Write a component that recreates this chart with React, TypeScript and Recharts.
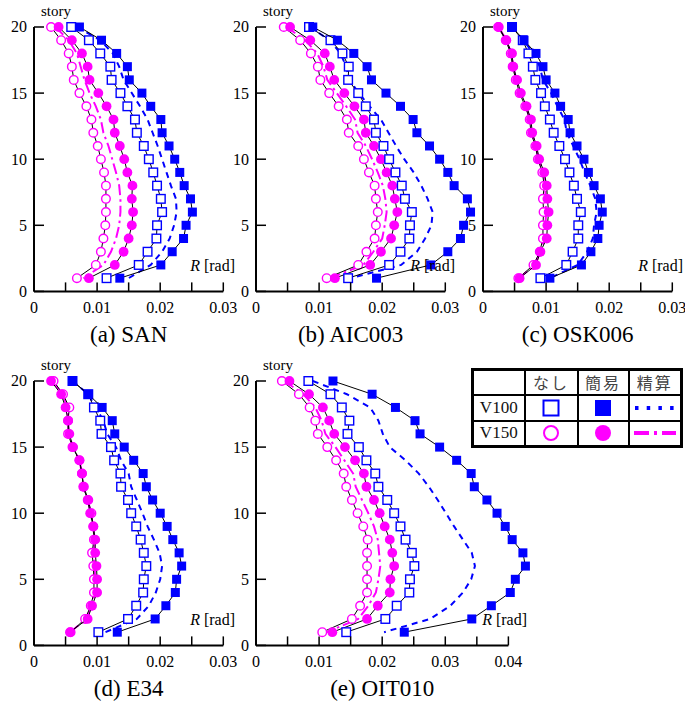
import React from 'react';
import { ScatterChart, Scatter, XAxis, YAxis, ReferenceLine } from 'recharts';

// ---------- data (story 20 -> 1) ----------
const STORIES = [20, 19, 18, 17, 16, 15, 14, 13, 12, 11, 10, 9, 8, 7, 6, 5, 4, 3, 2, 1];
const STORY_TICKS = [0, 5, 10, 15, 20];
const R_TICKS_003 = [0, 0.005, 0.01, 0.015, 0.02, 0.025, 0.03];
const R_TICKS_004 = [0, 0.005, 0.01, 0.015, 0.02, 0.025, 0.03, 0.035, 0.04];

// (a) SAN
const sanV100None = [0.0059, 0.0087, 0.0105, 0.0121, 0.0123, 0.0137, 0.0148, 0.016, 0.0163, 0.0174, 0.0182, 0.0189, 0.0195, 0.0201, 0.0203, 0.0195, 0.0194, 0.018, 0.0166, 0.0115];
const sanV100Simple = [0.0072, 0.0107, 0.0131, 0.0148, 0.0151, 0.0171, 0.0185, 0.0201, 0.0203, 0.0214, 0.0223, 0.0231, 0.0238, 0.0248, 0.0251, 0.0241, 0.0237, 0.0219, 0.0201, 0.0136];
const sanV100Precise = [0.0068, 0.0105, 0.0125, 0.0135, 0.0142, 0.0155, 0.0168, 0.018, 0.0188, 0.0196, 0.0203, 0.021, 0.0217, 0.0225, 0.0226, 0.0222, 0.0215, 0.0203, 0.0185, 0.015];
const sanV150None = [0.0027, 0.0043, 0.0055, 0.006, 0.0063, 0.0072, 0.0083, 0.0091, 0.0094, 0.0101, 0.0106, 0.0111, 0.0114, 0.0114, 0.0114, 0.0113, 0.011, 0.0106, 0.0098, 0.0068];
const sanV150Simple = [0.0039, 0.006, 0.0076, 0.0085, 0.0088, 0.0102, 0.0115, 0.0126, 0.0128, 0.0136, 0.0143, 0.0148, 0.0156, 0.0155, 0.0157, 0.0155, 0.015, 0.0142, 0.0128, 0.0087];
const sanV150Precise = [0.0034, 0.0055, 0.0068, 0.0074, 0.008, 0.0088, 0.0098, 0.0106, 0.011, 0.0118, 0.0124, 0.013, 0.0135, 0.0137, 0.0137, 0.0135, 0.013, 0.0122, 0.011, 0.0078];

// (b) AIC003
const aicV100None = [0.0084, 0.0118, 0.0137, 0.0147, 0.0146, 0.0162, 0.0174, 0.0187, 0.019, 0.0202, 0.0211, 0.0221, 0.0231, 0.0236, 0.0247, 0.0244, 0.0243, 0.0229, 0.0211, 0.0146];
const aicV100Simple = [0.009, 0.0129, 0.0155, 0.0176, 0.0183, 0.0206, 0.0229, 0.0249, 0.0255, 0.0275, 0.0291, 0.0304, 0.0314, 0.0335, 0.034, 0.0329, 0.0324, 0.0304, 0.0277, 0.0191];
const aicV100Precise = [0.0085, 0.0117, 0.0134, 0.0143, 0.0148, 0.0163, 0.018, 0.0198, 0.021, 0.0222, 0.0235, 0.025, 0.0262, 0.0272, 0.028, 0.0278, 0.0268, 0.0255, 0.023, 0.015];
const aicV150None = [0.0044, 0.007, 0.0087, 0.0098, 0.0102, 0.0116, 0.0131, 0.0144, 0.0147, 0.0162, 0.0171, 0.0179, 0.0188, 0.019, 0.0193, 0.019, 0.0188, 0.0175, 0.0162, 0.0112];
const aicV150Simple = [0.0054, 0.0086, 0.0109, 0.0117, 0.0124, 0.014, 0.0156, 0.0171, 0.0174, 0.0187, 0.0198, 0.0207, 0.0216, 0.022, 0.0224, 0.0219, 0.0214, 0.0198, 0.0181, 0.0125];
const aicV150Precise = [0.0048, 0.0078, 0.0097, 0.0107, 0.0113, 0.0128, 0.0143, 0.0157, 0.0161, 0.0174, 0.0184, 0.0193, 0.0201, 0.0205, 0.0207, 0.0204, 0.02, 0.0186, 0.017, 0.0117];

// (c) OSK006
const oskV100None = [0.0046, 0.0063, 0.0072, 0.0079, 0.0083, 0.0092, 0.0098, 0.0106, 0.0112, 0.0121, 0.013, 0.0137, 0.0144, 0.0149, 0.0155, 0.0151, 0.0151, 0.0142, 0.0132, 0.0091];
const oskV100Simple = [0.0046, 0.0065, 0.0084, 0.0095, 0.01, 0.0114, 0.0123, 0.0135, 0.0138, 0.0149, 0.016, 0.0167, 0.0176, 0.0186, 0.0189, 0.0184, 0.0182, 0.0171, 0.0156, 0.0106];
const oskV100Precise = [0.0046, 0.0064, 0.008, 0.009, 0.0095, 0.0108, 0.0118, 0.0129, 0.0133, 0.0143, 0.0153, 0.0161, 0.017, 0.0178, 0.018, 0.0176, 0.0174, 0.0165, 0.015, 0.0106];
const oskV150None = [0.0024, 0.0036, 0.0044, 0.0047, 0.0052, 0.0058, 0.0067, 0.0074, 0.0076, 0.0083, 0.0087, 0.0094, 0.0097, 0.0095, 0.0096, 0.0095, 0.0095, 0.009, 0.008, 0.0056];
const oskV150Simple = [0.0025, 0.0037, 0.0046, 0.0048, 0.0054, 0.006, 0.0069, 0.0076, 0.0078, 0.0085, 0.0089, 0.0097, 0.0101, 0.0102, 0.0104, 0.0102, 0.0101, 0.0091, 0.0084, 0.0058];
const oskV150Precise = [0.0025, 0.0037, 0.0045, 0.0048, 0.0053, 0.0059, 0.0068, 0.0075, 0.0077, 0.0084, 0.0088, 0.0096, 0.0099, 0.0099, 0.01, 0.0099, 0.0098, 0.0091, 0.0082, 0.0057];

// (d) E34
const e34V100None = [0.0061, 0.0086, 0.0095, 0.0105, 0.0107, 0.0122, 0.0127, 0.0137, 0.0138, 0.0149, 0.0154, 0.0162, 0.0169, 0.0174, 0.0178, 0.0174, 0.0173, 0.0162, 0.0149, 0.0102];
const e34V100Simple = [0.0061, 0.0086, 0.0108, 0.0124, 0.0128, 0.0143, 0.0158, 0.0173, 0.0178, 0.0188, 0.02, 0.0211, 0.022, 0.023, 0.0234, 0.0226, 0.0224, 0.0209, 0.0192, 0.0132];
const e34V100Precise = [0.0061, 0.0086, 0.0098, 0.011, 0.0116, 0.013, 0.0138, 0.015, 0.0154, 0.0163, 0.0172, 0.018, 0.019, 0.0199, 0.0203, 0.02, 0.0193, 0.0182, 0.0163, 0.0113];
const e34V150None = [0.0031, 0.0046, 0.0056, 0.0054, 0.0054, 0.0061, 0.0072, 0.0076, 0.0079, 0.0086, 0.0091, 0.0094, 0.0095, 0.0092, 0.0094, 0.0095, 0.0095, 0.009, 0.0081, 0.0058];
const e34V150Simple = [0.0027, 0.0043, 0.005, 0.0054, 0.0056, 0.0062, 0.0072, 0.0076, 0.0078, 0.0085, 0.0089, 0.0094, 0.0097, 0.0097, 0.0099, 0.01, 0.01, 0.0092, 0.0085, 0.0057];
const e34V150Precise = [0.0029, 0.0045, 0.0053, 0.0054, 0.0055, 0.0062, 0.0072, 0.0076, 0.0078, 0.0085, 0.009, 0.0094, 0.0096, 0.0095, 0.0096, 0.0097, 0.0097, 0.0091, 0.0083, 0.0057];

// (e) OIT010
const oitV100None = [0.0083, 0.0118, 0.0136, 0.0148, 0.0145, 0.0163, 0.0175, 0.0189, 0.0194, 0.0208, 0.0219, 0.0229, 0.0237, 0.0247, 0.0251, 0.0244, 0.0243, 0.0223, 0.0205, 0.0143];
const oitV100Simple = [0.0122, 0.0184, 0.0221, 0.0252, 0.026, 0.0291, 0.0318, 0.0341, 0.0346, 0.0366, 0.0382, 0.0395, 0.0406, 0.0423, 0.0427, 0.0411, 0.0403, 0.0373, 0.0342, 0.0235];
const oitV100Precise = [0.009, 0.0144, 0.0181, 0.0194, 0.0201, 0.0212, 0.0237, 0.0258, 0.0274, 0.0288, 0.0301, 0.0314, 0.0328, 0.0342, 0.0347, 0.0341, 0.0328, 0.0308, 0.0276, 0.0203];
const oitV150None = [0.0041, 0.0068, 0.0085, 0.0094, 0.0098, 0.0113, 0.0127, 0.0139, 0.0143, 0.0152, 0.0161, 0.017, 0.0177, 0.0176, 0.0176, 0.0176, 0.0176, 0.0165, 0.0152, 0.0105];
const oitV150Simple = [0.0053, 0.0084, 0.0106, 0.0116, 0.0124, 0.0141, 0.0157, 0.0171, 0.0175, 0.0187, 0.0196, 0.0204, 0.0212, 0.0216, 0.0219, 0.0213, 0.0212, 0.0193, 0.0176, 0.0121];
const oitV150Precise = [0.0045, 0.0075, 0.0094, 0.0104, 0.011, 0.0126, 0.014, 0.0154, 0.0158, 0.0168, 0.0178, 0.0187, 0.0193, 0.0195, 0.0197, 0.0194, 0.019, 0.0178, 0.0162, 0.0112];

// ---------- styling ----------
const BLUE = '#0000ff';
const MAGENTA = '#ff00ff';
const SERIF = '"Liberation Serif", "DejaVu Serif", "Times New Roman", serif';
const CJK = '"Noto Sans CJK JP", "Noto Sans CJK SC", sans-serif';
const PX_PER_RAD = 6310;
const PLOT_H = 264.4;

const serifStyle: React.CSSProperties = { fontFamily: SERIF };

const toPoints = (values: number[]) => STORIES.map((s, i) => ({ story: s, r: values[i] }));

const OpenSquare = (p: any) => (
  <rect x={p.cx - 4.3} y={p.cy - 4.3} width={8.6} height={8.6} fill="#fff" stroke={BLUE} strokeWidth={1.4} />
);
const FilledSquare = (p: any) => (
  <rect x={p.cx - 4.5} y={p.cy - 4.5} width={9} height={9} fill={BLUE} />
);
const OpenCircle = (p: any) => (
  <circle cx={p.cx} cy={p.cy} r={4.3} fill="#fff" stroke={MAGENTA} strokeWidth={1.4} />
);
const FilledCircle = (p: any) => <circle cx={p.cx} cy={p.cy} r={4.9} fill={MAGENTA} />;
const NoMarker = () => <g />;

const XTick = (props: any) => {
  const { x, y, payload } = props;
  const v = payload.value as number;
  const major = Math.abs(Math.round(v * 100) - v * 100) < 1e-6;
  return (
    <g>
      <line x1={x} x2={x} y1={y} y2={y - 9} stroke="#000" strokeWidth={1.5} />
      {major && (
        <text x={x} y={y + 21.5} textAnchor="middle" style={serifStyle} fontSize={16} fill="#000">
          {v === 0 ? '0' : v.toFixed(2)}
        </text>
      )}
    </g>
  );
};

const YTick = (props: any) => {
  const { x, y, payload } = props;
  return (
    <g>
      <line x1={x} x2={x + 10} y1={y} y2={y} stroke="#000" strokeWidth={1.5} />
      <text x={x - 7} y={y + 5.5} textAnchor="end" style={serifStyle} fontSize={16} fill="#000">
        {payload.value}
      </text>
    </g>
  );
};

type PanelProps = {
  axisX: number;
  y20: number;
  domainMax: number;
  axisMax: number;
  ticks: number[];
  v100None: number[];
  v100Simple: number[];
  v100Precise: number[];
  v150None: number[];
  v150Simple: number[];
  v150Precise: number[];
};

function Panel(p: PanelProps) {
  const mL = 30, mR = 28, mT = 15, mB = 30;
  const yAxisW = 1;
  const xAxisH = 1;
  const plotW = p.domainMax * PX_PER_RAD;
  const W = mL + yAxisW + plotW + mR;
  const H = mT + PLOT_H + xAxisH + mB;
  return (
    <div style={{ position: 'absolute', left: p.axisX - mL - yAxisW, top: p.y20 - mT }}>
      <ScatterChart width={W} height={H} margin={{ top: mT, right: mR, bottom: mB, left: mL }}>
        <XAxis
          type="number"
          dataKey="r"
          domain={[0, p.domainMax]}
          ticks={p.ticks}
          interval={0}
          axisLine={false}
          tickLine={false}
          tickSize={0}
          tickMargin={0}
          height={xAxisH}
          tick={XTick}
        />
        <YAxis
          type="number"
          dataKey="story"
          domain={[0, 20]}
          ticks={STORY_TICKS}
          interval={0}
          axisLine={{ stroke: '#000', strokeWidth: 2 }}
          tickLine={false}
          tickSize={0}
          tickMargin={0}
          width={yAxisW}
          tick={YTick}
        />
        <ReferenceLine
          segment={[{ x: 0, y: 0 }, { x: p.axisMax, y: 0 }]}
          stroke="#000"
          strokeWidth={2}
        />
        <Scatter
          data={toPoints(p.v100Precise)}
          line={{ stroke: BLUE, strokeWidth: 2, strokeDasharray: '6 5' }}
          shape={NoMarker}
          isAnimationActive={false}
        />
        <Scatter
          data={toPoints(p.v150Precise)}
          line={{ stroke: MAGENTA, strokeWidth: 2, strokeDasharray: '11 4 2.5 4' }}
          shape={NoMarker}
          isAnimationActive={false}
        />
        <Scatter
          data={toPoints(p.v150None)}
          line={{ stroke: '#000', strokeWidth: 1 }}
          shape={OpenCircle}
          isAnimationActive={false}
        />
        <Scatter
          data={toPoints(p.v150Simple)}
          line={{ stroke: '#000', strokeWidth: 1 }}
          shape={FilledCircle}
          isAnimationActive={false}
        />
        <Scatter
          data={toPoints(p.v100None)}
          line={{ stroke: '#000', strokeWidth: 1 }}
          shape={OpenSquare}
          isAnimationActive={false}
        />
        <Scatter
          data={toPoints(p.v100Simple)}
          line={{ stroke: '#000', strokeWidth: 1 }}
          shape={FilledSquare}
          isAnimationActive={false}
        />
      </ScatterChart>
    </div>
  );
}

const TOP_Y20 = 27.3;
const BOT_Y20 = 381.3;

const panels = [
  { key: 'a', caption: '(a) SAN', axisX: 34, y20: TOP_Y20, domainMax: 0.03, axisMax: 0.03, ticks: R_TICKS_003, rRight: 235,
    v100None: sanV100None, v100Simple: sanV100Simple, v100Precise: sanV100Precise, v150None: sanV150None, v150Simple: sanV150Simple, v150Precise: sanV150Precise },
  { key: 'b', caption: '(b) AIC003', axisX: 256, y20: TOP_Y20, domainMax: 0.036, axisMax: 0.03, ticks: R_TICKS_003, rRight: 455,
    v100None: aicV100None, v100Simple: aicV100Simple, v100Precise: aicV100Precise, v150None: aicV150None, v150Simple: aicV150Simple, v150Precise: aicV150Precise },
  { key: 'c', caption: '(c) OSK006', axisX: 483, y20: TOP_Y20, domainMax: 0.03, axisMax: 0.03, ticks: R_TICKS_003, rRight: 683,
    v100None: oskV100None, v100Simple: oskV100Simple, v100Precise: oskV100Precise, v150None: oskV150None, v150Simple: oskV150Simple, v150Precise: oskV150Precise },
  { key: 'd', caption: '(d) E34', axisX: 34, y20: BOT_Y20, domainMax: 0.03, axisMax: 0.03, ticks: R_TICKS_003, rRight: 235,
    v100None: e34V100None, v100Simple: e34V100Simple, v100Precise: e34V100Precise, v150None: e34V150None, v150Simple: e34V150Simple, v150Precise: e34V150Precise },
  { key: 'e', caption: '(e) OIT010', axisX: 256, y20: BOT_Y20, domainMax: 0.045, axisMax: 0.04, ticks: R_TICKS_004, rRight: 527,
    v100None: oitV100None, v100Simple: oitV100Simple, v100Precise: oitV100Precise, v150None: oitV150None, v150Simple: oitV150Simple, v150Precise: oitV150Precise },
];

const LEGEND_COLS = ['なし', '簡易', '精算'];
const LEGEND_ROWS = ['V100', 'V150'];

const cellBase: React.CSSProperties = {
  border: '2px solid #000',
  padding: 0,
  textAlign: 'center',
  verticalAlign: 'middle',
};

function LegendSymbol({ row, col }: { row: number; col: number }) {
  if (row === 0 && col === 0)
    return (
      <svg width={18} height={18} style={{ display: 'block', margin: '0 auto' }}>
        <rect x={1.5} y={1.5} width={15} height={15} fill="#fff" stroke={BLUE} strokeWidth={2} />
      </svg>
    );
  if (row === 0 && col === 1)
    return (
      <svg width={18} height={18} style={{ display: 'block', margin: '0 auto' }}>
        <rect x={1} y={1} width={16} height={16} fill={BLUE} />
      </svg>
    );
  if (row === 0 && col === 2)
    return (
      <svg width={44} height={10} style={{ display: 'block', margin: '0 auto' }}>
        <line x1={2} x2={42} y1={5} y2={5} stroke={BLUE} strokeWidth={4} strokeDasharray="3.5 8.2" />
      </svg>
    );
  if (row === 1 && col === 0)
    return (
      <svg width={18} height={18} style={{ display: 'block', margin: '0 auto' }}>
        <circle cx={9} cy={9} r={7} fill="#fff" stroke={MAGENTA} strokeWidth={2} />
      </svg>
    );
  if (row === 1 && col === 1)
    return (
      <svg width={18} height={18} style={{ display: 'block', margin: '0 auto' }}>
        <circle cx={9} cy={9} r={8} fill={MAGENTA} />
      </svg>
    );
  return (
    <svg width={44} height={10} style={{ display: 'block', margin: '0 auto' }}>
      <line x1={1} x2={43} y1={5} y2={5} stroke={MAGENTA} strokeWidth={4} strokeDasharray="15 5 3 5" />
    </svg>
  );
}

function LegendTable() {
  return (
    <table
      style={{
        position: 'absolute',
        left: 471,
        top: 368,
        borderCollapse: 'collapse',
        border: '3px solid #000',
        background: '#fff',
        tableLayout: 'fixed',
        width: 211,
      }}
    >
      <colgroup>
        <col style={{ width: 52 }} />
        <col style={{ width: 53 }} />
        <col style={{ width: 51 }} />
        <col style={{ width: 53 }} />
      </colgroup>
      <tbody>
        <tr style={{ height: 25 }}>
          <td style={cellBase}></td>
          {LEGEND_COLS.map((c) => (
            <td key={c} style={{ ...cellBase, fontFamily: CJK, fontSize: 16, color: '#444', lineHeight: '20px', letterSpacing: 2 }}>
              {c}
            </td>
          ))}
        </tr>
        {LEGEND_ROWS.map((r, ri) => (
          <tr key={r} style={{ height: 26 }}>
            <td style={{ ...cellBase, fontFamily: SERIF, fontSize: 17, color: '#111', lineHeight: '20px' }}>{r}</td>
            {LEGEND_COLS.map((c, ci) => (
              <td key={c} style={{ ...cellBase, lineHeight: 0 }}>
                <LegendSymbol row={ri} col={ci} />
              </td>
            ))}
          </tr>
        ))}
      </tbody>
    </table>
  );
}

export default function App() {
  return (
    <div style={{ position: 'absolute', left: 0, top: 0, width: 685, height: 706, background: '#fff', overflow: 'hidden' }}>
      {panels.map((p) => (
        <Panel key={p.key} {...p} />
      ))}
      <svg width={685} height={706} style={{ position: 'absolute', left: 0, top: 0, pointerEvents: 'none' }}>
        {panels.map((p) => {
          const bottom = p.y20 + PLOT_H;
          const center = p.axisX + (p.axisMax * PX_PER_RAD) / 2;
          return (
            <g key={p.key} style={serifStyle}>
              <text x={p.axisX + 7} y={p.y20 - 11} fontSize={15} fill="#000">
                story
              </text>
              <text x={p.rRight} y={bottom - 20.5} textAnchor="end" fontSize={16} fill="#000">
                <tspan fontStyle="italic">R</tspan> [rad]
              </text>
              <text x={center} y={bottom + 50.5} textAnchor="middle" fontSize={23} fill="#000">
                {p.caption}
              </text>
            </g>
          );
        })}
      </svg>
      <LegendTable />
    </div>
  );
}
